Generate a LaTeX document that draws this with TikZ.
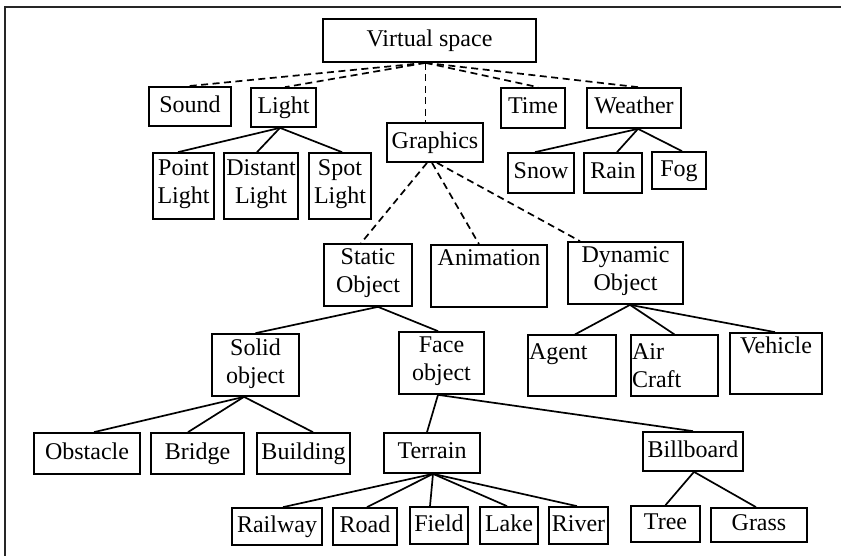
\documentclass[tikz,border=0pt]{standalone}
\usepackage{fontspec}
\setmainfont{Liberation Serif}
\begin{document}
\begin{tikzpicture}[x=1pt, y=-1pt,
  box/.style={draw, line width=1.7pt, inner sep=0pt,
    font=\fontsize{24}{28}\selectfont, align=center,
    execute at begin node=\strut, execute at end node=\strut},
  lbox/.style={box, align=left, inner xsep=1pt,
    execute at begin node={\rule{0pt}{24pt}},
    execute at end node={\rule[-4pt]{0pt}{0pt}}},
  link/.style={line width=1.7pt},
  dlink/.style={line width=1.7pt, dash pattern=on 7pt off 4.5pt},
  frame/.style={line width=1.8pt, black!85}]
\useasboundingbox (0,0) rectangle (841,556);
% open frame: only the left and top edges lie inside the page
\draw[frame] (5,556) -- (5,7) -- (841,7);

% root
\node[box, minimum width=213pt, minimum height=43pt] (vs) at (429.5,40.5) {Virtual space};

% first level
\node[box, minimum width=82pt, minimum height=39pt] (sound) at (190,106.5) {Sound};
\node[box, minimum width=65pt, minimum height=39pt] (light) at (283.5,107.5) {Light};
\node[box, minimum width=96pt, minimum height=39pt] (gfx) at (435,142.5) {Graphics};
\node[box, minimum width=64pt, minimum height=40pt] (time) at (533,108) {Time};
\node[box, minimum width=94pt, minimum height=40pt] (weather) at (634,108) {Weather};

% lights
\node[box, minimum width=61pt, minimum height=66pt] (ptlight) at (183.5,186) {Point\\Light};
\node[box, minimum width=74pt, minimum height=66pt] (dlight) at (261,186) {Distant\\Light};
\node[box, minimum width=62pt, minimum height=66pt] (slight) at (340,186) {Spot\\Light};

% weather
\node[box, minimum width=66pt, minimum height=40pt] (snow) at (541,173) {Snow};
\node[box, minimum width=58pt, minimum height=40pt] (rain) at (613,173) {Rain};
\node[box, minimum width=54pt, minimum height=37pt] (fog) at (679,170.5) {Fog};

% graphics
\node[box, minimum width=88pt, minimum height=62pt] (static) at (368,275) {Static\\Object};
\node[box, minimum width=116pt, minimum height=62pt] (anim) at (489,276) {Animation\\\mbox{}};
\node[box, minimum width=115pt, minimum height=62pt] (dyn) at (625.5,273) {Dynamic\\Object};

% dynamic objects
\node[lbox, text width=86pt, minimum height=59pt] (agent) at (572,365.5) {Agent\\\mbox{}};
\node[lbox, text width=85pt, minimum height=59pt] (aircraft) at (674.5,365.5) {Air\\Craft};
\node[box, minimum width=92pt, minimum height=61pt] (vehicle) at (776,363.5) {Vehicle\\\mbox{}};

% static objects
\node[box, minimum width=87pt, minimum height=62pt] (solid) at (255.5,365) {Solid\\object};
\node[box, minimum width=85pt, minimum height=62pt] (face) at (441.5,363) {Face\\object};

% solid objects
\node[box, minimum width=106pt, minimum height=41pt] (obstacle) at (87,453.5) {Obstacle};
\node[box, minimum width=93pt, minimum height=41pt] (bridge) at (197.5,453.5) {Bridge};
\node[box, minimum width=93pt, minimum height=41pt] (building) at (303.5,453.5) {Building};

% face objects
\node[box, minimum width=96pt, minimum height=40pt] (terrain) at (432,453) {Terrain};
\node[box, minimum width=100pt, minimum height=39pt] (billboard) at (693,451.5) {Billboard};

% terrain kinds
\node[box, minimum width=90pt, minimum height=37pt] (railway) at (277,526.5) {Railway};
\node[box, minimum width=64pt, minimum height=37pt] (road) at (365,526.5) {Road};
\node[box, minimum width=58pt, minimum height=37pt] (field) at (439,525.5) {Field};
\node[box, minimum width=58pt, minimum height=37pt] (lake) at (509,525.5) {Lake};
\node[box, minimum width=59pt, minimum height=37pt] (river) at (578.5,525.5) {River};

% billboard kinds
\node[box, minimum width=69pt, minimum height=36pt] (tree) at (665.5,524) {Tree};
\node[box, minimum width=96pt, minimum height=34pt] (grass) at (759,525) {Grass};

% dashed links from the root
\coordinate (vsb) at ([xshift=-4pt]vs.south);
\draw[dlink] (vsb) -- ([xshift=-2pt]sound.north);
\draw[dlink] (vsb) -- ([xshift=1.5pt]light.north);
\draw[dlink] (vsb) -- (vsb |- gfx.north);
\draw[dlink] (vsb) -- ([xshift=5pt]time.north);
\draw[dlink] (vsb) -- ([xshift=4pt]weather.north);

% dashed links from graphics
\draw[dlink] ([xshift=-8pt]gfx.south) -- ([xshift=-7pt]static.north);
\draw[dlink] ([xshift=-3pt]gfx.south) -- ([xshift=-10pt]anim.north);
\draw[dlink] ([xshift=2pt]gfx.south) -- ([xshift=-45.5pt]dyn.north);

% solid links
\coordinate (lb) at ([xshift=-3.5pt]light.south);
\draw[link] (lb) -- ([xshift=-5.5pt]ptlight.north);
\draw[link] (lb) -- ([xshift=-4pt]dlight.north);
\draw[link] (lb) -- ([xshift=2pt]slight.north);

\coordinate (wb) at ([xshift=4pt]weather.south);
\draw[link] (wb) -- ([xshift=-6pt]snow.north);
\draw[link] (wb) -- ([xshift=4pt]rain.north);
\draw[link] (wb) -- ([xshift=3pt]fog.north);

\coordinate (sb) at ([xshift=10pt]static.south);
\draw[link] (sb) -- (solid.north);
\draw[link] (sb) -- ([xshift=-3.5pt]face.north);

\coordinate (db) at ([xshift=4.5pt]dyn.south);
\draw[link] (db) -- ([xshift=3pt]agent.north);
\draw[link] (db) -- (aircraft.north);
\draw[link] (db) -- ([xshift=-1pt]vehicle.north);

\coordinate (solb) at ([xshift=-11.5pt]solid.south);
\draw[link] (solb) -- ([xshift=7pt]obstacle.north);
\draw[link] (solb) -- ([xshift=-9.5pt]bridge.north);
\draw[link] (solb) -- ([xshift=9.5pt]building.north);

\coordinate (fb) at ([xshift=-3.5pt]face.south);
\draw[link] (fb) -- ([xshift=-5pt]terrain.north);
\draw[link] (fb) -- (billboard.north);

\coordinate (tb) at ([xshift=1pt]terrain.south);
\draw[link] (tb) -- ([xshift=6pt]railway.north);
\draw[link] (tb) -- ([xshift=2pt]road.north);
\draw[link] (tb) -- ([xshift=-9pt]field.north);
\draw[link] (tb) -- ([xshift=-2pt]lake.north);
\draw[link] (tb) -- ([xshift=-1.5pt]river.north);

\coordinate (bb) at ([xshift=1pt]billboard.south);
\draw[link] (bb) -- (tree.north);
\draw[link] (bb) -- ([xshift=-3pt]grass.north);
\end{tikzpicture}
\end{document}
